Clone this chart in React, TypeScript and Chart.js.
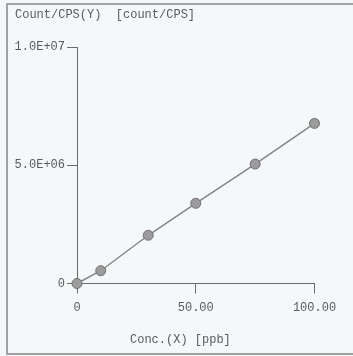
import React, { useEffect, useRef } from "react";
import { Chart, registerables } from "chart.js";

Chart.register(...registerables);

// Calibration standards: concentration (ppb) and measured count rate
const concentrations = [0, 10, 30, 50, 75, 100];
const counts = [0, 540000, 2040000, 3390000, 5050000, 6770000];

const xTickValues = [0, 50, 100];
const xTickLabels = ["0", "50.00", "100.00"];
const yTickValues = [0, 5000000, 10000000];
const yTickLabels = ["0", "5.0E+06", "1.0E+07"];

const yTitle = "Count/CPS(Y)  [count/CPS]";
const xTitle = "Conc.(X) [ppb]";

const FONT = "'Liberation Mono', 'DejaVu Sans Mono', monospace";
const TEXT = "#5a5a5a";
const AXIS = "#6a6a6a";

// Axis captions: Y caption sits in the top-left corner, X caption under the axis
const captions = {
  id: "captions",
  afterDraw(chart: any) {
    const { ctx } = chart;
    ctx.save();
    ctx.font = `12px ${FONT}`;
    ctx.fillStyle = TEXT;
    ctx.textAlign = "left";
    ctx.textBaseline = "middle";
    ctx.fillText(yTitle, 15, 15);
    ctx.fillText(xTitle, 130, 340);
    ctx.restore();
  },
};

export default function App() {
  const ref = useRef<HTMLCanvasElement | null>(null);

  useEffect(() => {
    if (!ref.current) return;
    const chart = new Chart(ref.current, {
      type: "scatter",
      data: {
        datasets: [
          {
            data: concentrations.map((x, i) => ({ x, y: counts[i] })),
            showLine: true,
            borderColor: "#858585",
            borderWidth: 1.5,
            pointRadius: 5,
            pointBackgroundColor: "#9c9c9c",
            pointBorderColor: "#6e6e6e",
            pointBorderWidth: 1,
            clip: false as any,
          },
        ],
      },
      options: {
        responsive: false,
        animation: false,
        layout: { padding: { left: 0, top: 47, right: 38.5, bottom: 0 } },
        plugins: {
          legend: { display: false },
          tooltip: { enabled: false },
        },
        scales: {
          x: {
            type: "linear",
            min: 0,
            max: 100,
            afterBuildTicks: (s: any) => {
              s.ticks = xTickValues.map((v) => ({ value: v }));
            },
            afterFit: (s: any) => {
              s.height = 72.5;
            },
            ticks: {
              padding: 7,
              color: TEXT,
              font: { family: FONT, size: 12 },
              maxRotation: 0,
              callback: (v: any) => xTickLabels[xTickValues.indexOf(Number(v))] ?? "",
            },
            grid: {
              drawOnChartArea: false,
              drawTicks: true,
              tickLength: 10,
              color: AXIS,
              lineWidth: 1,
            },
            border: { display: true, color: AXIS, width: 1 },
          },
          y: {
            type: "linear",
            min: 0,
            max: 10000000,
            afterBuildTicks: (s: any) => {
              s.ticks = yTickValues.map((v) => ({ value: v }));
            },
            afterFit: (s: any) => {
              s.width = 77;
            },
            ticks: {
              padding: 2,
              color: TEXT,
              font: { family: FONT, size: 12 },
              callback: (v: any) => yTickLabels[yTickValues.indexOf(Number(v))] ?? "",
            },
            grid: {
              drawOnChartArea: false,
              drawTicks: true,
              tickLength: 10,
              color: AXIS,
              lineWidth: 1,
            },
            border: { display: true, color: AXIS, width: 1 },
          },
        },
      },
      plugins: [captions],
    });
    return () => chart.destroy();
  }, []);

  return (
    <div
      style={{
        position: "fixed",
        left: 0,
        top: 0,
        width: 353,
        height: 356,
        background: "#f5f8f9",
      }}
    >
      <div
        style={{
          position: "absolute",
          left: 6,
          top: 3,
          width: 360,
          height: 348,
          borderLeft: "2px solid #a2a2a2",
          borderTop: "2px solid #a2a2a2",
          borderBottom: "2px solid #a2a2a2",
        }}
      />
      <canvas
        ref={ref}
        width={353}
        height={356}
        style={{ position: "absolute", left: 0, top: 0, display: "block" }}
      />
    </div>
  );
}
